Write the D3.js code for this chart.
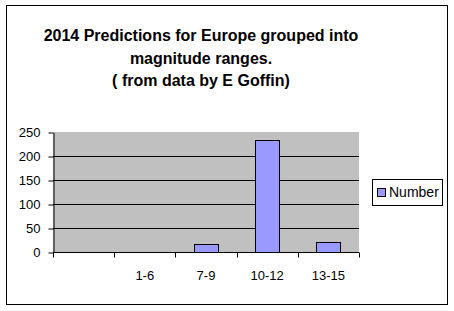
<!DOCTYPE html>
<html>
<head>
<meta charset="utf-8">
<script src="https://cdn.jsdelivr.net/npm/d3@7"></script>
<style>
  body { margin: 0; background: #fff; }
  text { font-family: "Liberation Sans", Arial, sans-serif; }
</style>
</head>
<body>
<script>
// chart data
const categories = ["", "1-6", "7-9", "10-12", "13-15"];
const numbers = [0, 0, 16, 233, 20];
const yTicks = [0, 50, 100, 150, 200, 250];
const titleLines = ["2014 Predictions for Europe grouped into", "magnitude ranges.", "( from data by E Goffin)"];
const seriesName = "Number";

const w = 454;
const h = 311;

const svg = d3.select("body")
  .append("svg")
  .attr("width", w)
  .attr("height", h);

// outer frame
svg.append("rect")
  .attr("x", 6.5).attr("y", 5.5)
  .attr("width", 441).attr("height", 299)
  .attr("fill", "#fff")
  .attr("stroke", "#000");

// title
svg.append("text")
  .attr("x", 201)
  .attr("y", 41)
  .attr("text-anchor", "middle")
  .attr("font-size", 16)
  .attr("font-weight", "bold")
  .selectAll("tspan")
  .data(titleLines)
  .enter()
  .append("tspan")
  .attr("x", 201)
  .attr("dy", (d, i) => i === 0 ? 0 : 22.5)
  .text(d => d);

const plot = { left: 53, right: 359, top: 132, bottom: 252 };

const x = d3.scaleBand()
  .domain(categories.map((c, i) => i))
  .range([plot.left, plot.right]);

const y = d3.scaleLinear()
  .domain([0, 250])
  .range([plot.bottom, plot.top]);

// plot background
svg.append("rect")
  .attr("x", plot.left).attr("y", plot.top)
  .attr("width", plot.right - plot.left)
  .attr("height", plot.bottom - plot.top)
  .attr("fill", "#c0c0c0");

// gridlines
svg.selectAll(".grid")
  .data(yTicks.filter(t => t > 0 && t < 250))
  .enter()
  .append("line")
  .attr("class", "grid")
  .attr("x1", plot.left).attr("x2", plot.right)
  .attr("y1", d => Math.round(y(d)) + 0.5)
  .attr("y2", d => Math.round(y(d)) + 0.5)
  .attr("stroke", "#000");

// bars
svg.selectAll(".bar")
  .data(numbers.map((v, i) => ({ v, i })).filter(d => d.v > 0))
  .enter()
  .append("rect")
  .attr("class", "bar")
  .attr("x", d => Math.round(x(d.i) + x.bandwidth() / 2 - 12) + 0.5)
  .attr("y", d => Math.round(y(d.v)) + 0.5)
  .attr("width", 24)
  .attr("height", d => Math.round(y(0)) - Math.round(y(d.v)))
  .attr("fill", "#9999ff")
  .attr("stroke", "#000");

// y axis
const yAxis = svg.append("g")
  .attr("transform", `translate(${plot.left + 0.5},0.5)`)
  .call(d3.axisLeft(y).tickValues(yTicks).tickSize(5).tickSizeOuter(0));
yAxis.selectAll("path, line").attr("stroke", "#000");
yAxis.selectAll("text")
  .attr("font-size", 13)
  .attr("font-family", "Liberation Sans, Arial, sans-serif")
  .attr("fill", "#000")
  .attr("x", -13);

// x axis
const xAxis = svg.append("g")
  .attr("transform", `translate(0,${Math.round(y(0)) + 0.5})`);
xAxis.append("line")
  .attr("x1", plot.left).attr("x2", plot.right)
  .attr("stroke", "#000");
xAxis.selectAll(".xtick")
  .data(d3.range(categories.length + 1))
  .enter()
  .append("line")
  .attr("x1", d => Math.round(plot.left + d * x.step()) + 0.5)
  .attr("x2", d => Math.round(plot.left + d * x.step()) + 0.5)
  .attr("y1", 0).attr("y2", 5)
  .attr("stroke", "#000");
xAxis.selectAll(".xlabel")
  .data(categories)
  .enter()
  .append("text")
  .attr("x", (d, i) => x(i) + x.bandwidth() / 2)
  .attr("y", 27)
  .attr("text-anchor", "middle")
  .attr("font-size", 13)
  .text(d => d);

// legend
const legend = svg.append("g");
legend.append("rect")
  .attr("x", 372.5).attr("y", 179.5)
  .attr("width", 70).attr("height", 26)
  .attr("fill", "#fff")
  .attr("stroke", "#000");
legend.append("rect")
  .attr("x", 377.5).attr("y", 188.5)
  .attr("width", 8).attr("height", 8)
  .attr("fill", "#9999ff")
  .attr("stroke", "#000");
legend.append("text")
  .attr("x", 389)
  .attr("y", 197)
  .attr("font-size", 14)
  .text(seriesName);
</script>
</body>
</html>
